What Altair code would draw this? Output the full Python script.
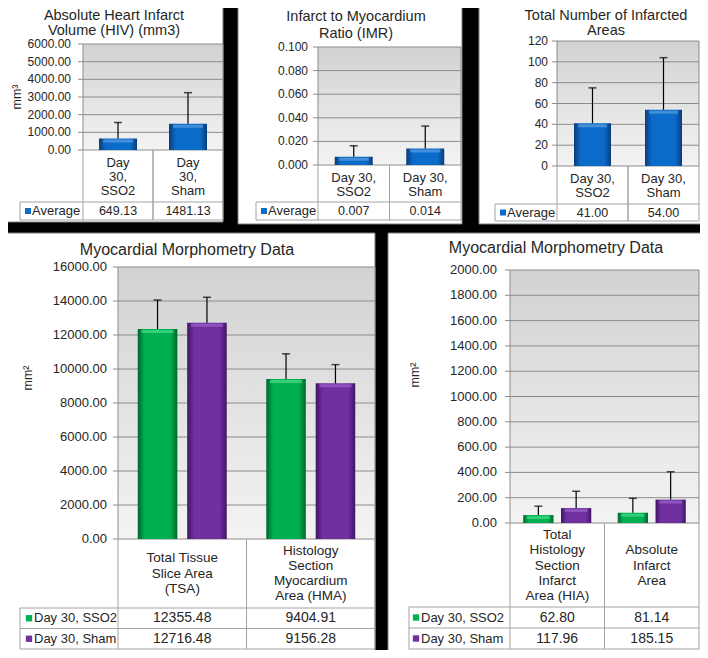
import altair as alt
import pandas as pd

# ---------------- data ----------------
top_groups = ["Day 30, SSO2", "Day 30, Sham"]
avg_series = ["Average"]

hiv_mean = [649.13, 1481.13]
hiv_sd = [907.0, 1763.0]
hiv_ticks = [0, 1000, 2000, 3000, 4000, 5000, 6000]
hiv_labels = [["Day", "30,", "SSO2"], ["Day", "30,", "Sham"]]

imr_mean = [0.007, 0.014]
imr_sd = [0.0093, 0.019]
imr_ticks = [0.0, 0.02, 0.04, 0.06, 0.08, 0.1]
imr_labels = [["Day 30,", "SSO2"], ["Day 30,", "Sham"]]

tna_mean = [41.0, 54.0]
tna_sd = [34.0, 50.0]
tna_ticks = [0, 20, 40, 60, 80, 100, 120]
tna_labels = [["Day 30,", "SSO2"], ["Day 30,", "Sham"]]

series = ["Day 30, SSO2", "Day 30, Sham"]

big_cats = ["TSA", "HMA"]
big_labels = [["Total Tissue", "Slice Area", "(TSA)"],
              ["Histology", "Section", "Myocardium", "Area (HMA)"]]
big_sso2 = [12355.48, 9404.91]
big_sham = [12716.48, 9156.28]
big_sso2_sd = [1704.0, 1486.0]
big_sham_sd = [1502.0, 1101.0]
big_ticks = [0, 2000, 4000, 6000, 8000, 10000, 12000, 14000, 16000]

small_cats = ["HIA", "AIA"]
small_labels = [["Total", "Histology", "Section", "Infarct", "Area (HIA)"],
                ["Absolute", "Infarct", "Area"]]
small_sso2 = [62.80, 81.14]
small_sham = [117.96, 185.15]
small_sso2_sd = [70.0, 114.0]
small_sham_sd = [133.0, 220.0]
small_ticks = [0, 200, 400, 600, 800, 1000, 1200, 1400, 1600, 1800, 2000]

# ---------------- style ----------------
M = 8
FONT = "Liberation Sans"
TXT = "#262626"
GRID = "#8c8c8c"
BORDER = "#a3a3a3"
BLUE = ("#0a3c78", "#0b6bc8", "#5a9de0")
GREEN = ("#00652f", "#00b050", "#45dd8a")
PURPLE = ("#3f1663", "#7030a0", "#9d63cc")

one = pd.DataFrame({"k": [0]})


def px(v):
    return v - M


def hgrad(edge, mid):
    return alt.Gradient(gradient="linear", x1=0, x2=1, y1=0, y2=0, stops=[
        alt.GradientStop(color=edge, offset=0),
        alt.GradientStop(color=mid, offset=0.18),
        alt.GradientStop(color=mid, offset=0.82),
        alt.GradientStop(color=edge, offset=1)])


PLOT_GRAD = alt.Gradient(gradient="linear", x1=0, x2=0, y1=0, y2=1, stops=[
    alt.GradientStop(color="#d2d2d2", offset=0),
    alt.GradientStop(color="#f3f3f3", offset=1)])


def hline(x1, x2, y, color=BORDER, w=1):
    return alt.Chart(one).mark_rule(color=color, strokeWidth=w).encode(
        x=alt.value(px(x1)), x2=alt.value(px(x2)), y=alt.value(px(y)))


def vline(x, y1, y2, color=BORDER, w=1):
    return alt.Chart(one).mark_rule(color=color, strokeWidth=w).encode(
        x=alt.value(px(x)), y=alt.value(px(y1)), y2=alt.value(px(y2)))


def label(text, x, y, size, align="center", angle=0):
    kw = {}
    if angle:
        kw["angle"] = angle
    return alt.Chart(pd.DataFrame({"t": [text]})).mark_text(
        font=FONT, fontSize=size, color=TXT, align=align, baseline="middle", **kw
    ).encode(x=alt.value(px(x)), y=alt.value(px(y)), text="t:N")


def panel(g, cats, cat_lines, series_names, means, sds, colors, ticks, tick_fmt, val_fmt):
    L, R, T, B = g["L"], g["R"], g["T"], g["B"]
    xs = alt.Scale(domain=cats, range=[px(L), px(R)], paddingInner=0, paddingOuter=0)
    ys = alt.Scale(domain=[ticks[0], ticks[-1]], range=[px(B), px(T)], nice=False, zero=True)
    xenc = alt.X("cat:N", scale=xs, axis=None)
    rows = []
    for s, ms, ss in zip(series_names, means, sds):
        for c, m, sd in zip(cats, ms, ss):
            rows.append({"cat": c, "series": s, "mean": m, "sd": sd})
    df = pd.DataFrame(rows)
    grouped = len(series_names) > 1
    off = {}
    if grouped:
        off = {"xOffset": alt.XOffset("series:N", scale=alt.Scale(
            domain=series_names, paddingInner=g["pi"], paddingOuter=g["po"]))}
    last = g["rows"][-1][1]
    layers = []
    # panel white box
    bx = g["box"]
    layers.append(alt.Chart(one).mark_rect(fill="white", stroke="#7f7f7f", strokeWidth=1).encode(
        x=alt.value(px(bx[0])), x2=alt.value(px(bx[1])), y=alt.value(px(bx[2])), y2=alt.value(px(bx[3]))))
    # plot background
    layers.append(alt.Chart(one).mark_rect(fill=PLOT_GRAD).encode(
        x=alt.value(px(L)), x2=alt.value(px(R)), y=alt.value(px(T)), y2=alt.value(px(B))))
    # gridlines & tick labels
    tdf = pd.DataFrame({"v": ticks})
    layers.append(alt.Chart(tdf).mark_rule(color=GRID, strokeWidth=1).encode(
        y=alt.Y("v:Q", scale=ys, axis=None), x=alt.value(px(L - 5)), x2=alt.value(px(R))))
    layers.append(alt.Chart(tdf).mark_text(
        align="right", baseline="middle", font=FONT, fontSize=g["tick_fs"], color=TXT).encode(
        y=alt.Y("v:Q", scale=ys, axis=None), x=alt.value(px(g["tickx"])),
        text=alt.Text("v:Q", format=tick_fmt)))
    layers.append(vline(L, T, B, GRID))
    layers.append(vline(R, T, B, GRID))
    # table grid
    cdf = pd.DataFrame({"cat": cats})
    for bp in (0, 1):
        layers.append(alt.Chart(cdf).mark_rule(color=BORDER, strokeWidth=1).encode(
            x=alt.X("cat:N", scale=xs, axis=None, bandPosition=bp),
            y=alt.value(px(B)), y2=alt.value(px(last))))
    layers.append(vline(g["tl"], g["rows"][0][0], last))
    for (r0, r1) in g["rows"]:
        layers.append(hline(g["tl"], R, r0))
    layers.append(hline(g["tl"], R, last))
    # bars
    for s, col in zip(series_names, colors):
        sub = alt.Chart(df).transform_filter(alt.datum.series == s)
        bkw = {} if grouped else {"size": g["bar_w"]}
        layers.append(sub.mark_bar(fill=hgrad(col[0], col[1]), **bkw).encode(
            x=xenc, y=alt.Y("mean:Q", scale=ys, axis=None), **off))
        layers.append(sub.mark_tick(color=col[2], thickness=3, size=g["bar_w"] - 8, yOffset=2.5).encode(
            x=xenc, y=alt.Y("mean:Q", scale=ys, axis=None), **off))
    # error bars (upper only)
    err = alt.Chart(df).transform_calculate(hi="datum.mean + datum.sd")
    layers.append(err.mark_rule(color="black", strokeWidth=1.2).encode(
        x=xenc, y=alt.Y("mean:Q", scale=ys, axis=None), y2="hi:Q", **off))
    layers.append(err.mark_tick(color="black", thickness=1.5, size=8).encode(
        x=xenc, y=alt.Y("hi:Q", scale=ys, axis=None), **off))
    # category labels
    for c, lines in zip(cats, cat_lines):
        n = len(lines)
        for j, ln in enumerate(lines):
            yy = g["lab_cy"] + (j - (n - 1) / 2) * g["lab_lh"]
            layers.append(alt.Chart(pd.DataFrame({"cat": [c], "t": [ln]})).mark_text(
                font=FONT, fontSize=g["lab_fs"], color=TXT, baseline="middle").encode(
                x=xenc, y=alt.value(px(yy)), text="t:N"))
    # table values + legend keys
    for s, col, (r0, r1) in zip(series_names, colors, g["rows"]):
        cy = (r0 + r1) / 2
        layers.append(alt.Chart(df).transform_filter(alt.datum.series == s).mark_text(
            font=FONT, fontSize=g["val_fs"], color=TXT, baseline="middle").encode(
            x=xenc, y=alt.value(px(cy)), text=alt.Text("mean:Q", format=val_fmt)))
        layers.append(alt.Chart(one).mark_square(size=g["mk"], color=col[1], opacity=1).encode(
            x=alt.value(px(g["tl"] + g["mk_dx"])), y=alt.value(px(cy))))
        layers.append(label(s, g["tl"] + g["tx_dx"], cy, g["leg_fs"], align="left"))
    # titles
    for t, ty in zip(g["title"], g["title_y"]):
        layers.append(label(t, g["title_x"], ty, g["title_fs"]))
    if g.get("ylab"):
        yl = g["ylab"]
        layers.append(label(yl[0], yl[1], yl[2], 12.5, angle=270))
    return alt.layer(*layers)


top_common = dict(tick_fs=12, lab_fs=13, lab_lh=14, val_fs=12.5, leg_fs=13, mk=36,
                  mk_dx=8, tx_dx=12, title_fs=14.5, bar_w=38)

g1 = dict(top_common, box=(2, 223, 1, 222), L=83, R=223, T=44, B=150, tl=20,
          rows=[(202, 220)], tickx=71, lab_cy=176.5,
          title=["Absolute Heart Infarct", "Volume (HIV) (mm3)"], title_x=114, title_y=[16, 30.5],
          ylab=("mm³", 17, 97))
g2 = dict(top_common, box=(238, 462, 1, 224), L=318, R=461, T=47, B=165, tl=256,
          rows=[(202, 220)], tickx=308, lab_cy=185,
          title=["Infarct to Myocardium", "Ratio (IMR)"], title_x=356, title_y=[17, 34])
g3 = dict(top_common, box=(479, 705, 1, 224), L=557, R=699, T=41, B=166, tl=495,
          rows=[(204, 221)], tickx=548, lab_cy=185.5, bar_w=37,
          title=["Total Number of Infarcted", "Areas"], title_x=606, title_y=[16, 31])

bot_common = dict(tick_fs=13, lab_fs=13.5, lab_lh=15.2, val_fs=14, leg_fs=13, mk=40,
                  mk_dx=9, tx_dx=14, title_fs=16)

g4 = dict(bot_common, box=(2, 375, 233, 655), L=118, R=375, T=267, B=539, tl=20,
          rows=[(608, 628.5), (628.5, 649)], tickx=107, lab_cy=573.5, pi=0.2, po=0.4, bar_w=40,
          title=["Myocardial Morphometry Data"], title_x=187, title_y=[250],
          ylab=("mm²", 28, 378))
g5 = dict(bot_common, box=(388, 705, 233, 655), L=510, R=699, T=270, B=523, tl=409,
          rows=[(607, 628), (628, 649)], tickx=497, lab_cy=565.5, pi=0.2, po=0.35, bar_w=31,
          title=["Myocardial Morphometry Data"], title_x=556, title_y=[248],
          ylab=("mm²", 415, 375), mk_dx=7, tx_dx=12)

p1 = panel(g1, top_groups, hiv_labels, avg_series, [hiv_mean], [hiv_sd], [BLUE], hiv_ticks, ".2f", ".2f")
p2 = panel(g2, top_groups, imr_labels, avg_series, [imr_mean], [imr_sd], [BLUE], imr_ticks, ".3f", ".3f")
p3 = panel(g3, top_groups, tna_labels, avg_series, [tna_mean], [tna_sd], [BLUE], tna_ticks, "d", ".2f")
p4 = panel(g4, big_cats, big_labels, series, [big_sso2, big_sham], [big_sso2_sd, big_sham_sd],
           [GREEN, PURPLE], big_ticks, ".2f", ".2f")
p5 = panel(g5, small_cats, small_labels, series, [small_sso2, small_sham], [small_sso2_sd, small_sham_sd],
           [GREEN, PURPLE], small_ticks, ".2f", ".2f")

chart = alt.layer(p1, p2, p3, p4, p5).resolve_scale(
    x="independent", y="independent", xOffset="independent"
).properties(
    width=692, height=642, background="black", padding=0, autosize="none"
).configure_view(stroke=None)

chart.save("out.html", embed_options={"renderer": "svg", "actions": False})
